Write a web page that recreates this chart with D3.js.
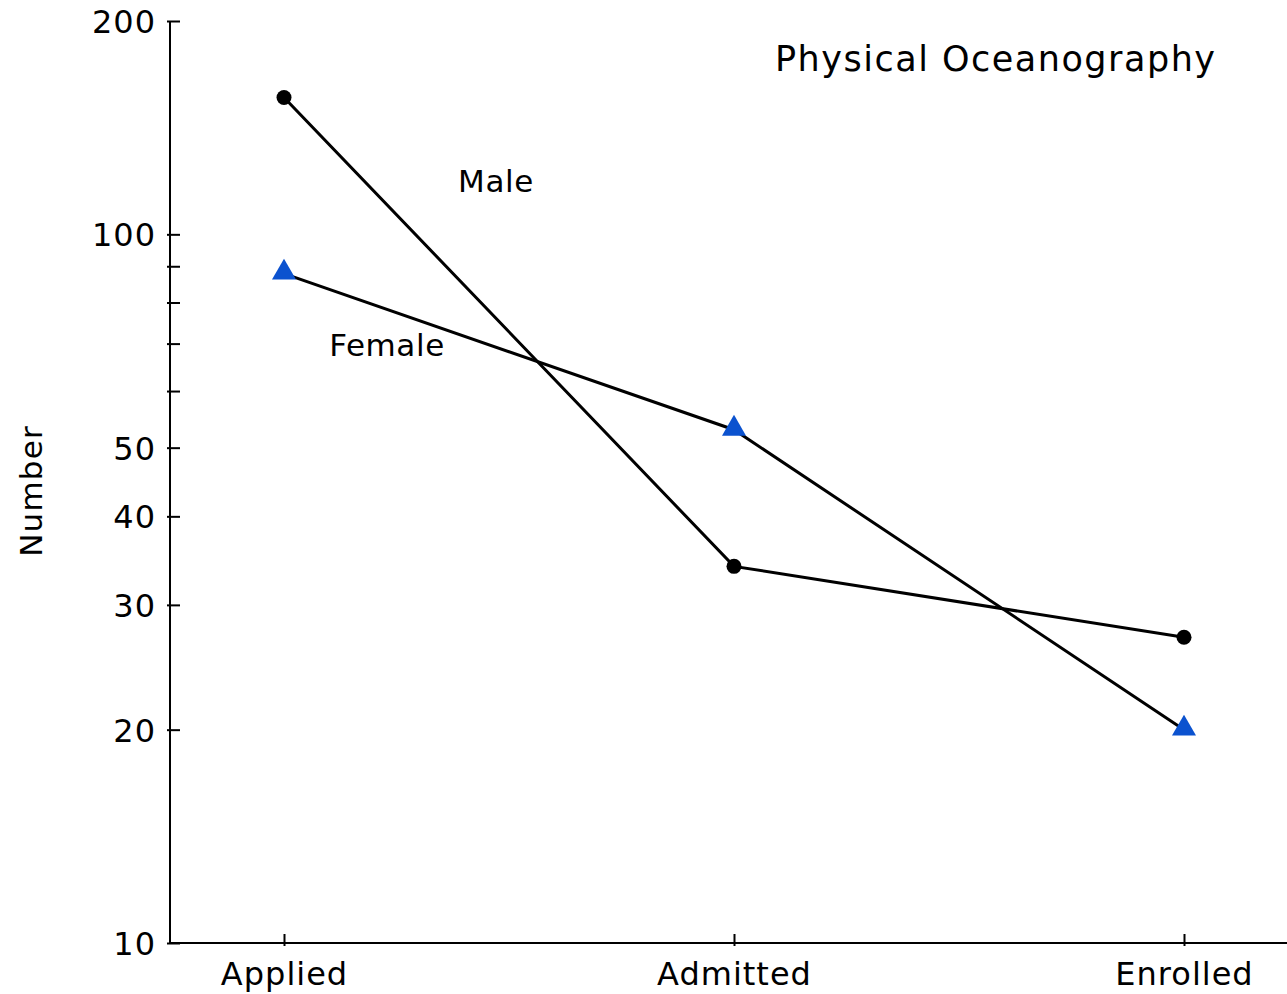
<!DOCTYPE html>
<html lang="en">
<head>
  <meta charset="UTF-8">
  <title>Physical Oceanography</title>
  <style>
  body { margin: 0; background: #fff; }
  #chart { display: block; }
  text { font-family: "DejaVu Sans", sans-serif; fill: #000; }
  .axis path, .axis line { stroke: #000; stroke-width: 2; }
  .axis text { font-size: 32px; letter-spacing: 1px; }
  .series { fill: none; stroke: #000; stroke-width: 3; }
  </style>
</head>
<body>
<svg id="chart"></svg>
<script src="https://d3js.org/d3.v7.min.js"></script>
<script>
// data
const stages = ["Applied", "Admitted", "Enrolled"];
const male = [156, 34, 27];
const female = [88, 53, 20];
const yTicks = [10, 20, 30, 40, 50, 100, 200];
const yMinorTicks = [60, 70, 80, 90];

const W = 1287, H = 994;
const margin = { top: 21, right: 0, bottom: 51, left: 170 };

const svg = d3.select("#chart").attr("width", W).attr("height", H);

const x = d3.scalePoint()
  .domain(stages)
  .range([284, 1184]);

const y = d3.scaleLog()
  .domain([10, 200])
  .range([H - margin.bottom, margin.top]);

// y axis (ticks cross the axis line)
const yAxis = svg.append("g")
  .attr("class", "axis")
  .attr("transform", `translate(${margin.left},0)`)
  .call(d3.axisLeft(y).tickValues(yTicks).tickFormat(d3.format("d"))
    .tickSize(3).tickSizeOuter(0).tickPadding(11));
yAxis.select(".domain").attr("d", `M0,${y(200)}V${y(10)}`);
yAxis.selectAll(".tick line").attr("x1", -3).attr("x2", 10);
yAxis.selectAll(".tick text").attr("dy", "0.36em");

yAxis.selectAll(".minor")
  .data(yMinorTicks)
  .enter().append("line")
  .attr("class", "minor")
  .attr("x1", -3).attr("x2", 10)
  .attr("y1", d => y(d)).attr("y2", d => y(d));

// x axis
const xAxis = svg.append("g")
  .attr("class", "axis")
  .attr("transform", `translate(0,${y(10)})`)
  .call(d3.axisBottom(x).tickSize(3).tickSizeOuter(0).tickPadding(16));
xAxis.select(".domain").attr("d", `M${margin.left},0H${W}`);
xAxis.selectAll(".tick line").attr("y1", -9).attr("y2", 3);

// lines
const line = d3.line()
  .x((d, i) => x(stages[i]))
  .y(d => y(d));

svg.append("path").datum(male).attr("class", "series").attr("d", line);
svg.append("path").datum(female).attr("class", "series").attr("d", line);

// markers
svg.selectAll(".dot")
  .data(male)
  .enter().append("circle")
  .attr("class", "dot")
  .attr("cx", (d, i) => x(stages[i]))
  .attr("cy", d => y(d))
  .attr("r", 7.5)
  .attr("fill", "#000");

svg.selectAll(".tri")
  .data(female)
  .enter().append("path")
  .attr("class", "tri")
  .attr("d", d3.symbol(d3.symbolTriangle, 250))
  .attr("transform", (d, i) => `translate(${x(stages[i])},${y(d) - 1})`)
  .attr("fill", "#0b52cf");

// labels
svg.append("text")
  .attr("x", 775).attr("y", 71)
  .attr("font-size", 35).attr("letter-spacing", 1.5)
  .text("Physical Oceanography");

svg.append("text")
  .attr("x", 496).attr("y", 192)
  .attr("text-anchor", "middle")
  .attr("font-size", 31).attr("letter-spacing", 0.6)
  .text("Male");

svg.append("text")
  .attr("x", 387).attr("y", 356)
  .attr("text-anchor", "middle")
  .attr("font-size", 31).attr("letter-spacing", 0.6)
  .text("Female");

svg.append("text")
  .attr("transform", "translate(42,491) rotate(-90)")
  .attr("text-anchor", "middle")
  .attr("font-size", 31).attr("letter-spacing", 1.2)
  .text("Number");
</script>
</body>
</html>
